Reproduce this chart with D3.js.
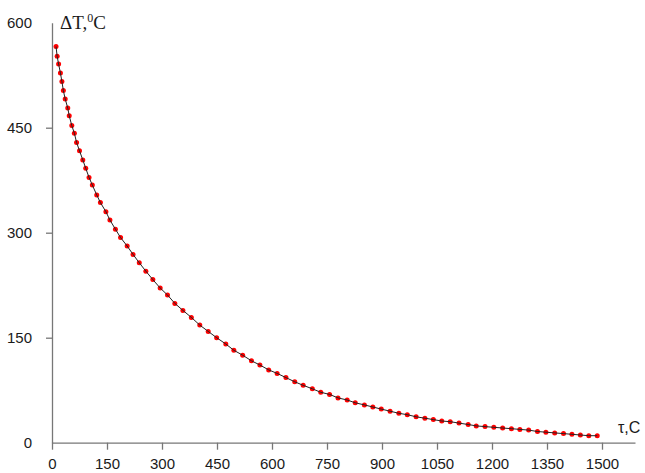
<!DOCTYPE html>
<html>
<head>
<meta charset="utf-8">
<script src="https://cdn.jsdelivr.net/npm/d3@7"></script>
<style>
  body { margin: 0; background: #fff; }
  svg { display: block; }
</style>
</head>
<body>
<svg id="chart" width="645" height="473"></svg>
<script>
// time, s
const tau = [11, 14, 18, 23, 27, 31, 36, 43, 47, 54, 61, 67, 75, 84, 92, 101, 110, 122, 132, 147,
  158, 173, 187, 205, 221, 238, 256, 275, 295, 315, 335, 357, 380, 403, 426, 449, 474, 496, 520, 544,
  567, 591, 614, 638, 662, 685, 710, 733, 757, 780, 805, 827, 852, 875, 898, 922, 946, 969, 993, 1017,
  1040, 1063, 1086, 1110, 1135, 1157, 1181, 1205, 1229, 1253, 1276, 1300, 1324, 1347, 1371, 1395, 1418, 1441, 1464, 1487];
// temperature difference, deg C
const deltaT = [566, 552, 541, 528, 516, 503, 491, 478, 467, 453, 442, 429, 417, 404, 392, 379, 368, 354, 343, 330,
  318, 305, 293, 281, 269, 257, 245, 233, 221, 211, 199, 189, 179, 168, 159, 150, 141, 132, 125, 117,
  111, 104, 99, 93, 87, 82, 77, 72, 69, 64, 61, 57, 54, 51, 48, 45, 42, 40, 37, 35,
  33, 31, 30, 28, 26, 24, 23, 22, 21, 20, 19, 18, 16, 15, 14, 13, 12, 11, 10, 10];

const xTicks = [0, 150, 300, 450, 600, 750, 900, 1050, 1200, 1350, 1500];
const yTicks = [0, 150, 300, 450, 600];

const svg = d3.select('#chart');
const font = '"Liberation Sans", Arial, sans-serif';

const x = d3.scaleLinear().domain([0, 1590]).range([52, 635]);
const y = d3.scaleLinear().domain([0, 600]).range([442.7, 22.7]);

// x axis
const gx = svg.append('g')
  .attr('transform', `translate(0,${y(0)})`)
  .call(d3.axisBottom(x).tickValues(xTicks).tickFormat(d3.format('d'))
    .tickSize(7).tickSizeOuter(0).tickPadding(9));
gx.select('.domain').attr('stroke', '#777').attr('stroke-width', 1.3);
gx.selectAll('.tick line').attr('stroke', '#777').attr('stroke-width', 1.3);
gx.selectAll('.tick text')
  .attr('font-family', font).attr('font-size', 15).attr('fill', '#1a1a1a');

// y axis
const gy = svg.append('g')
  .attr('transform', `translate(${x(0)},0)`)
  .call(d3.axisLeft(y).tickValues(yTicks).tickFormat(d3.format('d'))
    .tickSize(6).tickSizeOuter(0).tickPadding(14));
gy.select('.domain').attr('stroke', '#777').attr('stroke-width', 1.3);
gy.selectAll('.tick line')
  .attr('stroke', '#777').attr('stroke-width', 1.3)
  .attr('display', d => (d === 0 || d === 600) ? 'none' : null);
gy.selectAll('.tick text')
  .attr('font-family', font).attr('font-size', 15).attr('fill', '#1a1a1a');

// axis titles
const yTitle = svg.append('text')
  .attr('x', 60).attr('y', 29)
  .attr('font-family', '"Liberation Serif", "Times New Roman", serif')
  .attr('font-size', 19).attr('fill', '#1a1a1a');
yTitle.append('tspan').text('\u0394T,');
yTitle.append('tspan').attr('font-size', 12).attr('dy', -7).text('0');
yTitle.append('tspan').attr('dy', 7).text('C');

svg.append('text')
  .attr('x', 618).attr('y', 433)
  .attr('font-family', font).attr('font-size', 16).attr('fill', '#1a1a1a')
  .text('\u03c4,C');

// data
const pts = tau.map((t, i) => [t, deltaT[i]]);

svg.append('g').selectAll('circle')
  .data(pts)
  .join('circle')
  .attr('cx', d => x(d[0]))
  .attr('cy', d => y(d[1]))
  .attr('r', 2.5)
  .attr('fill', '#ff0000');

const line = d3.line().x(d => x(d[0])).y(d => y(d[1]));
svg.append('path')
  .datum(pts)
  .attr('d', line)
  .attr('fill', 'none')
  .attr('stroke', '#222')
  .attr('stroke-width', 1);
</script>
</body>
</html>
